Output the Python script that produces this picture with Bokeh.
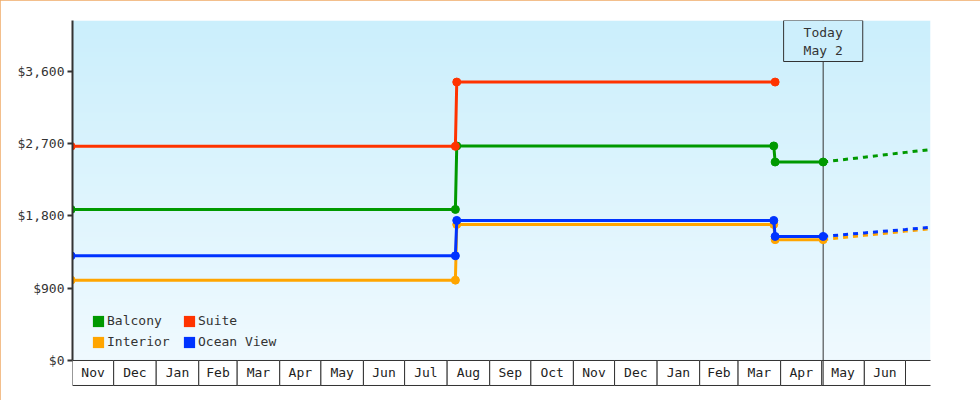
import numpy as np
import pandas as pd
from bokeh.plotting import figure
from bokeh.models import (Range1d, FixedTicker, NumeralTickFormatter, Legend,
                          LegendItem, Label, ColumnDataSource)
from bokeh.core.properties import value
from bokeh.embed import file_html
from bokeh.resources import INLINE

FONT = "DejaVu Sans Mono"

# ---------------- data ----------------
hist_dates = ["2012-10-31", "2013-08-07", "2013-08-08", "2014-03-27", "2014-03-28", "2014-05-02"]
balcony_price = [1880, 1880, 2670, 2670, 2470, 2470]
interior_price = [1000, 1000, 1693, 1693, 1504, 1504]
ocean_price = [1303, 1303, 1743, 1743, 1544, 1544]
suite_dates = ["2012-10-31", "2013-08-07", "2013-08-08", "2014-03-28"]
suite_price = [2665, 2665, 3465, 3465]

forecast_dates = ["2014-05-02", "2014-06-01", "2014-07-01", "2014-07-18"]
balcony_forecast = [2470, 2530, 2590, 2622]
interior_forecast = [1504, 1557, 1610, 1638]
ocean_forecast = [1544, 1588, 1630, 1656]

today = "2014-05-02"
today_text = "Today\nMay 2"

month_starts = pd.date_range("2012-11-01", "2014-08-01", freq="MS")
month_labels = ["Nov", "Dec", "Jan", "Feb", "Mar", "Apr", "May", "Jun", "Jul", "Aug",
                "Sep", "Oct", "Nov", "Dec", "Jan", "Feb", "Mar", "Apr", "May", "Jun", ""]
y_ticks = [0, 900, 1800, 2700, 3600]

series_names = ["Balcony", "Suite", "Interior", "Ocean View"]
series_colors = ["#009900", "#ff3300", "#ffa500", "#0033ff"]

# ---------------- layout constants ----------------
X_START = pd.Timestamp("2012-11-01")
X_END = pd.Timestamp("2014-07-19 05:00")
Y_TOP = 4231
Y_BOT = -336
BOX_BOT = -311

p = figure(width=980, height=400, x_axis_type="datetime", output_backend="svg",
           toolbar_location=None, min_border_left=72, min_border_right=50,
           min_border_top=20, min_border_bottom=13,
           x_range=Range1d(X_START, X_END), y_range=Range1d(Y_BOT, Y_TOP))
p.styles = {"outline": "1px solid #efaa66", "outline-offset": "-1px"}
p.outline_line_color = None
p.background_fill_color = "white"
p.border_fill_color = "white"
p.grid.visible = False
p.xaxis.visible = False

# background gradient in plot area (above $0)
n = 256
t = np.linspace(0, 1, n)[:, None]
c_bot = np.array([240, 250, 255])
c_top = np.array([203, 239, 252])
rgb = (c_bot + (c_top - c_bot) * t).astype(np.uint8)
img = np.empty((n, 1), dtype=np.uint32)
view = img.view(dtype=np.uint8).reshape((n, 1, 4))
view[:, :, 0] = rgb[:, 0:1]
view[:, :, 1] = rgb[:, 1:2]
view[:, :, 2] = rgb[:, 2:3]
view[:, :, 3] = 255
x0_ms = X_START.value / 1e6
dw_ms = (X_END - X_START).total_seconds() * 1000
p.image_rgba(image=[img], x=x0_ms, y=0, dw=dw_ms, dh=Y_TOP)

# month boxes (x axis)
mb = ColumnDataSource(dict(left=month_starts[:-1], right=month_starts[1:],
                           mid=month_starts[:-1] + (month_starts[1:] - month_starts[:-1]) / 2,
                           label=month_labels))
p.quad(left="left", right="right", top=0, bottom=BOX_BOT, source=mb,
       fill_color="white", line_color="#333333", line_width=1)
p.text(x="mid", y=BOX_BOT / 2, text="label", source=mb, text_align="center",
       text_baseline="middle", text_font=value(FONT), text_font_size="13px",
       text_color="#222222")

# today line
p.segment(x0=[pd.Timestamp(today)], y0=[BOX_BOT], x1=[pd.Timestamp(today)], y1=[Y_TOP],
          line_color="#333333", line_width=1)

hd = pd.to_datetime(hist_dates)
fd = pd.to_datetime(forecast_dates)
sd = pd.to_datetime(suite_dates)

def series(dates, vals, color):
    p.line(dates, vals, line_color=color, line_width=3)
    p.scatter(dates, vals, marker="circle", size=8, fill_color=color, line_color=color)

# forecasts (dotted)
for vals, col in [(interior_forecast, series_colors[2]), (ocean_forecast, series_colors[3]),
                  (balcony_forecast, series_colors[0])]:
    p.line(fd, vals, line_color=col, line_width=3, line_dash="5 5")

series(hd, interior_price, series_colors[2])
series(hd, ocean_price, series_colors[3])
series(hd, balcony_price, series_colors[0])
series(sd, suite_price, series_colors[1])

# y axis
ax = p.yaxis[0]
ax.ticker = FixedTicker(ticks=y_ticks)
ax.formatter = NumeralTickFormatter(format="$0,0")
ax.bounds = (0, Y_TOP)
ax.axis_line_color = "#333333"
ax.axis_line_width = 2
ax.major_tick_line_color = "#333333"
ax.major_tick_line_width = 2
ax.major_tick_out = 5
ax.major_tick_in = 0
ax.minor_tick_line_color = None
ax.major_label_text_font = FONT
ax.major_label_text_font_size = "13px"
ax.major_label_text_color = "#333333"
ax.major_label_standoff = 3

# legend swatches (zero-area quads at each series' first point, used only as legend keys)
first_points = {"Balcony": (hd[0], balcony_price[0]), "Suite": (sd[0], suite_price[0]),
                "Interior": (hd[0], interior_price[0]), "Ocean View": (hd[0], ocean_price[0])}
items = []
for name, col in zip(series_names, series_colors):
    d0, v0 = first_points[name]
    r = p.quad(left=[d0], right=[d0], top=[v0], bottom=[v0], fill_color=col,
               line_color=None)
    items.append(LegendItem(label=name, renderers=[r]))
legend = Legend(items=items, orientation="horizontal", ncols=2, location=(19, 38),
                padding=0, margin=0, border_line_color=None, background_fill_alpha=0,
                glyph_width=14, glyph_height=14, label_standoff=2, label_width=69,
                label_height=15, spacing=6, label_text_font=FONT,
                label_text_font_size="13px", label_text_color="#333333")
p.add_layout(legend, "center")

# today label box
lab = Label(x=pd.Timestamp(today), y=Y_TOP, text=today_text, text_align="center",
            text_baseline="top", text_font=FONT, text_font_size="13px",
            text_color="#333333", text_line_height=1.2,
            background_fill_color="#cdeffc", border_line_color="#333333",
            border_line_width=1, padding=(20, 20, 4, 4))
p.add_layout(lab)

open("out.html", "w").write(file_html(p, INLINE))
